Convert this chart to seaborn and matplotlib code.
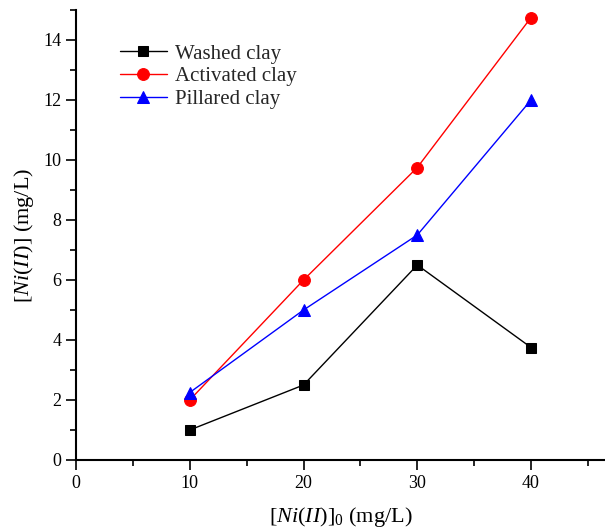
import matplotlib
matplotlib.use("Agg")
import matplotlib.pyplot as plt
import seaborn as sns
import pandas as pd
from matplotlib.ticker import MultipleLocator

x_vals = [10, 20, 30, 40]
washed = [1.0, 2.5, 6.5, 3.75]
activated = [2.0, 6.0, 9.75, 14.75]
pillared = [2.25, 5.0, 7.5, 12.0]
series_names = ["Washed clay", "Activated clay", "Pillared clay"]
colors = ["black", "red", "blue"]
markers = ["s", "o", "^"]
msizes = [7, 8.5, 9]

sns.set_theme(style="ticks")
plt.rcParams["font.family"] = ["Liberation Serif", "DejaVu Serif"]
plt.rcParams["mathtext.fontset"] = "custom"
plt.rcParams["mathtext.rm"] = "Liberation Serif"
plt.rcParams["mathtext.it"] = "Liberation Serif:italic"

df = pd.DataFrame({
    "x": x_vals * 3,
    "y": washed + activated + pillared,
    "series": sum([[n] * len(x_vals) for n in series_names], []),
})

fig = plt.figure(figsize=(6.05, 5.31), dpi=100)
ax = fig.add_axes([76 / 605, 1 - 460 / 531, 1 - 76 / 605, (460 - 10) / 531])

for name, c, m, ms in zip(series_names, colors, markers, msizes):
    sub = df[df["series"] == name]
    sns.lineplot(data=sub, x="x", y="y", ax=ax, color=c, marker=m,
                 markersize=ms, markeredgecolor=c, linewidth=1, label=name)

ax.set_xlim(0, 46.5)
ax.set_ylim(0, 15)
ax.xaxis.set_major_locator(MultipleLocator(10))
ax.xaxis.set_minor_locator(MultipleLocator(5))
ax.yaxis.set_major_locator(MultipleLocator(2))
ax.yaxis.set_minor_locator(MultipleLocator(1))
ax.tick_params(which="major", direction="out", length=7, width=1.2, labelsize=13, color="black", labelcolor="black")
ax.tick_params(which="minor", direction="out", length=4, width=1.2, color="black")
for s in ["left", "bottom"]:
    ax.spines[s].set_linewidth(1.5)
    ax.spines[s].set_color("black")
for s in ["right", "top"]:
    ax.spines[s].set_visible(False)

ax.set_xlabel(r"$\mathit{[Ni(II)]_{0}}$ (mg/L)", fontsize=16, color="black", labelpad=10)
ax.set_ylabel(r"$\mathit{[Ni(II)]}$ (mg/L)", fontsize=16, color="black", labelpad=5)

leg = ax.legend(loc="upper left", bbox_to_anchor=((120 - 76) / 529, (460 - 44) / 450),
                frameon=False, borderpad=0, borderaxespad=0,
                fontsize=15, handlelength=2.25, labelspacing=0.15, handletextpad=0.4)

fig.savefig("out.png", dpi=100)
